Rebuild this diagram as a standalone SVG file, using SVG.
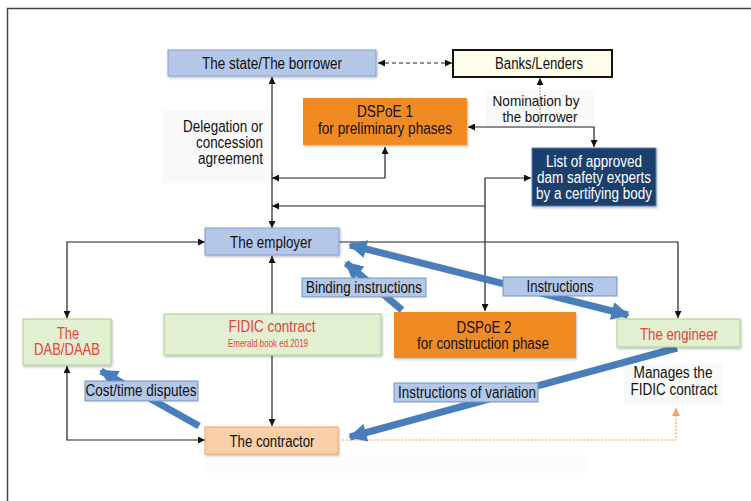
<svg xmlns="http://www.w3.org/2000/svg" width="751" height="501" viewBox="0 0 751 501">
<style>
text{font-family:"Liberation Sans",Arial,sans-serif;font-size:16px;fill:#111;text-anchor:middle}
.ln{fill:none;stroke:#222;stroke-width:1.2}
.blue{fill:none;stroke:#4a7ebb;stroke-width:7}
.lbl{fill:#b4c7e7;stroke:#6f93cc;stroke-width:1}
.red{fill:#e8413a}
.bg{fill:#f9f9f9}
</style>
<defs>
<marker id="ah" viewBox="0 0 10 10" refX="10" refY="5" markerWidth="7" markerHeight="7" markerUnits="userSpaceOnUse" orient="auto-start-reverse"><path d="M0,0 L10,5 L0,10 z" fill="#111"/></marker>
<marker id="bh" viewBox="0 0 10 10" refX="9" refY="5" markerWidth="3" markerHeight="2.6" orient="auto-start-reverse"><path d="M0,0 L10,5 L0,10 z" fill="#4a7ebb"/></marker>
<marker id="oh" viewBox="0 0 10 10" refX="10" refY="5" markerWidth="8" markerHeight="8" markerUnits="userSpaceOnUse" orient="auto"><path d="M0,0 L10,5 L0,10 z" fill="#f4a460"/></marker>
<filter id="sh" x="-10%" y="-10%" width="120%" height="130%"><feDropShadow dx="1" dy="1.5" stdDeviation="1" flood-color="#000" flood-opacity="0.25"/></filter>
</defs>
<rect width="751" height="501" fill="#fff"/>
<path d="M7.5,501 V8.5 H751" fill="none" stroke="#444" stroke-width="1.5"/>
<rect class="bg" x="163" y="110" width="106" height="73"/>
<rect class="bg" x="485" y="90" width="110" height="38"/>
<rect class="bg" x="624" y="364" width="98" height="40"/>
<rect x="205" y="455" width="381" height="18" fill="#fcfcfc"/>

<g id="connectors">
<path class="ln" d="M378,63 H452" stroke-dasharray="4,3" marker-start="url(#ah)" marker-end="url(#ah)"/>
<path d="M540,125 V78" fill="none" stroke="#777" stroke-width="1" stroke-dasharray="1.5,1.5" marker-end="url(#ah)"/>
<path class="ln" d="M272,77 V228" marker-start="url(#ah)" marker-end="url(#ah)"/>
<path class="ln" d="M385,147 V178 H272" marker-start="url(#ah)" marker-end="url(#ah)"/>
<path class="ln" d="M485,206 H272" marker-end="url(#ah)"/>
<path class="ln" d="M485,311 V178 H531" marker-start="url(#ah)" marker-end="url(#ah)"/>
<path class="ln" d="M468,127 H594 V147" marker-start="url(#ah)" marker-end="url(#ah)"/>
<path class="ln" d="M205,242 H67 V318" marker-start="url(#ah)" marker-end="url(#ah)"/>
<path class="ln" d="M339,242 H678 V318" marker-end="url(#ah)"/>
<path class="ln" d="M272,256 V426" marker-start="url(#ah)" marker-end="url(#ah)"/>
<path class="ln" d="M67,366 V440 H205" marker-start="url(#ah)" marker-end="url(#ah)"/>
<path d="M342,440 H676 V408" fill="none" stroke="#f4a460" stroke-width="1.2" stroke-dasharray="2,1.5" marker-end="url(#oh)"/>
<path class="blue" d="M350,245 L628,315" marker-start="url(#bh)" marker-end="url(#bh)"/>
<path class="blue" d="M402,310 L346,263" marker-end="url(#bh)"/>
<path class="blue" d="M677,348 L350,437" marker-end="url(#bh)"/>
<path class="blue" d="M199,426 L101,371" marker-end="url(#bh)"/>
</g>

<g id="state">
<rect x="168" y="50" width="208" height="26" fill="#b4c7e7" stroke="#7f9fd4" filter="url(#sh)"/>
<text x="272" y="69" textLength="140" lengthAdjust="spacingAndGlyphs">The state/The borrower</text>
</g>
<g id="banks">
<rect x="453" y="50" width="159" height="27" fill="#fdfde8" stroke="#111" stroke-width="2"/>
<text x="539" y="69" textLength="88" lengthAdjust="spacingAndGlyphs">Banks/Lenders</text>
</g>
<g id="dspoe1">
<rect x="303" y="98" width="164" height="47" fill="#f08a24" filter="url(#sh)"/>
<text x="385" y="117" textLength="56" lengthAdjust="spacingAndGlyphs">DSPoE 1</text>
<text x="385" y="134" textLength="134" lengthAdjust="spacingAndGlyphs">for preliminary phases</text>
</g>
<g id="delegation">
<text x="263" y="132" style="text-anchor:end" textLength="80" lengthAdjust="spacingAndGlyphs">Delegation or</text>
<text x="263" y="148" style="text-anchor:end" textLength="67" lengthAdjust="spacingAndGlyphs">concession</text>
<text x="263" y="164" style="text-anchor:end" textLength="65" lengthAdjust="spacingAndGlyphs">agreement</text>
</g>
<g id="nomination">
<text x="536" y="106" style="font-size:15px" textLength="87" lengthAdjust="spacingAndGlyphs">Nomination by</text>
<text x="540" y="122" style="font-size:15px" textLength="75" lengthAdjust="spacingAndGlyphs">the borrower</text>
</g>
<g id="list">
<rect x="532" y="148" width="124" height="58" fill="#1f3f6e" stroke="#5b7fb5" filter="url(#sh)"/>
<text x="594" y="167" style="fill:#fff" textLength="96" lengthAdjust="spacingAndGlyphs">List of approved</text>
<text x="594" y="183" style="fill:#fff" textLength="114" lengthAdjust="spacingAndGlyphs">dam safety experts</text>
<text x="594" y="199" style="fill:#fff" textLength="116" lengthAdjust="spacingAndGlyphs">by a certifying body</text>
</g>
<g id="employer">
<rect x="205" y="228" width="134" height="27" fill="#b4c7e7" stroke="#7f9fd4" filter="url(#sh)"/>
<text x="271" y="248" textLength="82" lengthAdjust="spacingAndGlyphs">The employer</text>
</g>
<g id="dab">
<rect x="23" y="319" width="88" height="46" fill="#e2efd1" stroke="#a9d08e" filter="url(#sh)"/>
<text x="68" y="339" class="red" textLength="22" lengthAdjust="spacingAndGlyphs">The</text>
<text x="67" y="355" class="red" textLength="66" lengthAdjust="spacingAndGlyphs">DAB/DAAB</text>
</g>
<g id="fidic">
<rect x="164" y="314" width="217" height="41" fill="#e2efd1" stroke="#a9d08e" filter="url(#sh)"/>
<text x="272" y="332" class="red" style="font-size:17px" textLength="87" lengthAdjust="spacingAndGlyphs">FIDIC contract</text>
<text x="268" y="347" class="red" style="font-size:10.5px" textLength="80" lengthAdjust="spacingAndGlyphs">Emerald book ed.2019</text>
</g>
<g id="dspoe2">
<rect x="394" y="312" width="182" height="46" fill="#f08a24" filter="url(#sh)"/>
<text x="484" y="333" textLength="55" lengthAdjust="spacingAndGlyphs">DSPoE 2</text>
<text x="483" y="349" textLength="132" lengthAdjust="spacingAndGlyphs">for construction phase</text>
</g>
<g id="engineer">
<rect x="617" y="319" width="123" height="28" fill="#e2efd1" stroke="#a9d08e" filter="url(#sh)"/>
<text x="679" y="340" class="red" textLength="78" lengthAdjust="spacingAndGlyphs">The engineer</text>
</g>
<g id="manages">
<text x="673" y="378" textLength="79" lengthAdjust="spacingAndGlyphs">Manages the</text>
<text x="674" y="395" textLength="87" lengthAdjust="spacingAndGlyphs">FIDIC contract</text>
</g>
<g id="contractor">
<rect x="205" y="427" width="133" height="27" fill="#fbcfa8" stroke="#f4a460" filter="url(#sh)"/>
<text x="272" y="447" textLength="85" lengthAdjust="spacingAndGlyphs">The contractor</text>
</g>
<g id="lbl-instructions">
<rect class="lbl" x="503" y="277" width="114" height="19"/>
<text x="560" y="292" textLength="67" lengthAdjust="spacingAndGlyphs">Instructions</text>
</g>
<g id="lbl-binding">
<rect class="lbl" x="302" y="278" width="124" height="19"/>
<text x="364" y="293" textLength="116" lengthAdjust="spacingAndGlyphs">Binding instructions</text>
</g>
<g id="lbl-variation">
<rect class="lbl" x="394" y="383" width="144" height="19"/>
<text x="467" y="398" textLength="138" lengthAdjust="spacingAndGlyphs">Instructions of variation</text>
</g>
<g id="lbl-cost">
<rect class="lbl" x="85" y="381" width="113" height="20"/>
<text x="141" y="396" textLength="111" lengthAdjust="spacingAndGlyphs">Cost/time disputes</text>
</g>
</svg>
